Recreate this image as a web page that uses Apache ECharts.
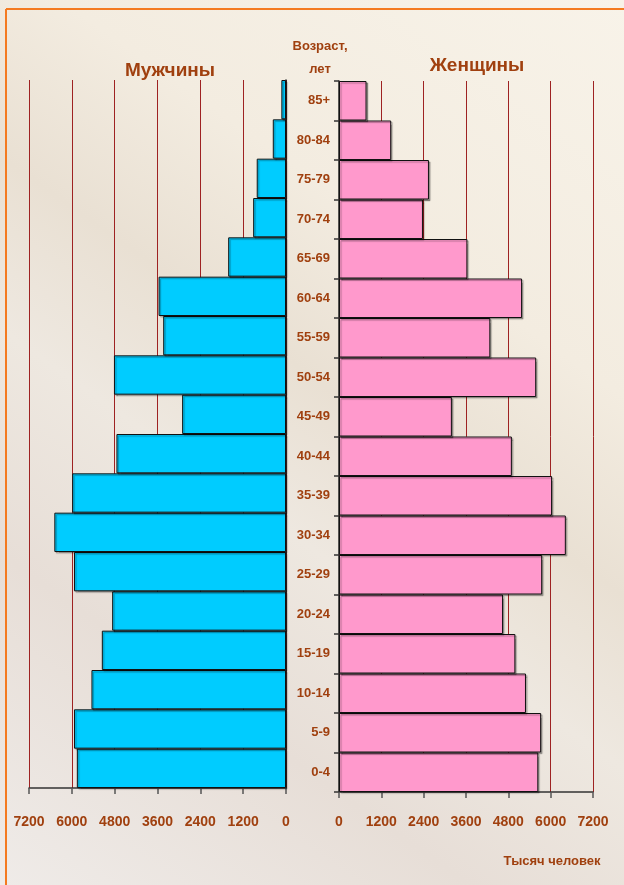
<!DOCTYPE html>
<html>
<head>
<meta charset="utf-8">
<script src="https://cdn.jsdelivr.net/npm/echarts@6/dist/echarts.min.js"></script>
<style>
    html, body { margin: 0; padding: 0; }
    #chart { width: 624px; height: 885px; }
</style>
</head>
<body>
<div id="chart"></div>
<script>
// возрастные группы снизу вверх
var AGES = ['0-4', '5-9', '10-14', '15-19', '20-24', '25-29', '30-34', '35-39', '40-44',
    '45-49', '50-54', '55-59', '60-64', '65-69', '70-74', '75-79', '80-84', '85+'];
// тыс. человек
var MEN = [5860, 5940, 5450, 5160, 4870, 5940, 6490, 5990, 4750,
    2910, 4820, 3440, 3570, 1620, 920, 820, 370, 130];
var WOMEN = [5650, 5730, 5300, 5000, 4650, 5760, 6430, 6040, 4900,
    3200, 5590, 4290, 5190, 3640, 2380, 2550, 1480, 780];
var TICKS = [0, 1200, 2400, 3600, 4800, 6000, 7200];

var BROWN = '#a0400f';
var FONT = "'Liberation Sans', Arial, sans-serif";

var chart = echarts.init(document.getElementById('chart'));

function valueAxis(idx, inverse, margin) {
    return {
        type: 'value',
        gridIndex: idx,
        min: TICKS[0],
        max: TICKS[TICKS.length - 1],
        interval: TICKS[1] - TICKS[0],
        inverse: inverse,
        position: 'bottom',
        axisLine: { show: true, lineStyle: { color: '#333', width: 1.5 } },
        axisTick: { show: true, length: 6, lineStyle: { color: '#555', width: 1.5 } },
        splitLine: { show: true, lineStyle: { color: '#9e2222', width: 1 } },
        axisLabel: {
            margin: margin,
            color: BROWN,
            fontFamily: FONT,
            fontWeight: 'bold',
            fontSize: 14,
            hideOverlap: false,
            showMinLabel: true,
            showMaxLabel: true,
            formatter: function (v) { return String(v); }
        }
    };
}

function text(x, y, str, size) {
    return {
        type: 'text',
        x: x,
        y: y,
        style: {
            text: str,
            fill: BROWN,
            font: 'bold ' + size + 'px ' + FONT,
            textAlign: 'center',
            textVerticalAlign: 'middle'
        }
    };
}

var barStyle = function (color) {
    return {
        color: color,
        borderColor: '#111',
        borderWidth: 1,
        shadowColor: 'rgba(0,0,0,0.3)',
        shadowOffsetX: 1.5,
        shadowOffsetY: 1.5,
        shadowBlur: 1
    };
};

chart.setOption({
    animation: false,
    backgroundColor: {
        type: 'linear',
        x: 0, y: 1, x2: 1, y2: 0,
        colorStops: [
            { offset: 0, color: '#efebe8' },
            { offset: 0.25, color: '#e7ded7' },
            { offset: 0.42, color: '#eee8e0' },
            { offset: 0.55, color: '#e9e0d3' },
            { offset: 0.7, color: '#f3ece0' },
            { offset: 1, color: '#f8f3e9' }
        ]
    },
    graphic: [
        {
            type: 'line',
            shape: { x1: 6, y1: 9, x2: 624, y2: 9 },
            style: { stroke: '#f47a20', lineWidth: 2 }
        },
        {
            type: 'line',
            shape: { x1: 6, y1: 9, x2: 6, y2: 885 },
            style: { stroke: '#f47a20', lineWidth: 2 }
        },
        text(170, 71, 'Мужчины', 19),
        text(477, 66, 'Женщины', 19),
        text(320, 46, 'Возраст,', 13),
        text(320, 69, 'лет', 13),
        text(552, 861, 'Тысяч человек', 13)
    ],
    grid: [
        { left: 29, top: 80, width: 257, height: 708 },
        { left: 339, top: 81, width: 254, height: 711 }
    ],
    xAxis: [
        valueAxis(0, true, 27),
        valueAxis(1, false, 23)
    ],
    yAxis: [
        {
            type: 'category',
            gridIndex: 0,
            data: AGES,
            position: 'right',
            axisLine: { show: true, lineStyle: { color: '#222', width: 1.5 } },
            axisTick: { show: false },
            axisLabel: { show: false },
            splitLine: { show: false }
        },
        {
            type: 'category',
            gridIndex: 1,
            data: AGES,
            position: 'left',
            axisLine: { show: true, lineStyle: { color: '#222', width: 1.5 } },
            axisTick: { show: true, length: 5, lineStyle: { color: '#333', width: 1.5 } },
            axisLabel: {
                margin: 9,
                color: BROWN,
                fontFamily: FONT,
                fontWeight: 'bold',
                fontSize: 13
            },
            splitLine: { show: false }
        }
    ],
    series: [
        {
            name: 'Мужчины',
            type: 'bar',
            xAxisIndex: 0,
            yAxisIndex: 0,
            barCategoryGap: '0%',
            data: MEN,
            itemStyle: barStyle('#00ccff')
        },
        {
            name: 'Женщины',
            type: 'bar',
            xAxisIndex: 1,
            yAxisIndex: 1,
            barCategoryGap: '0%',
            data: WOMEN,
            itemStyle: barStyle('#ff99cc')
        }
    ]
});
</script>
</body>
</html>
